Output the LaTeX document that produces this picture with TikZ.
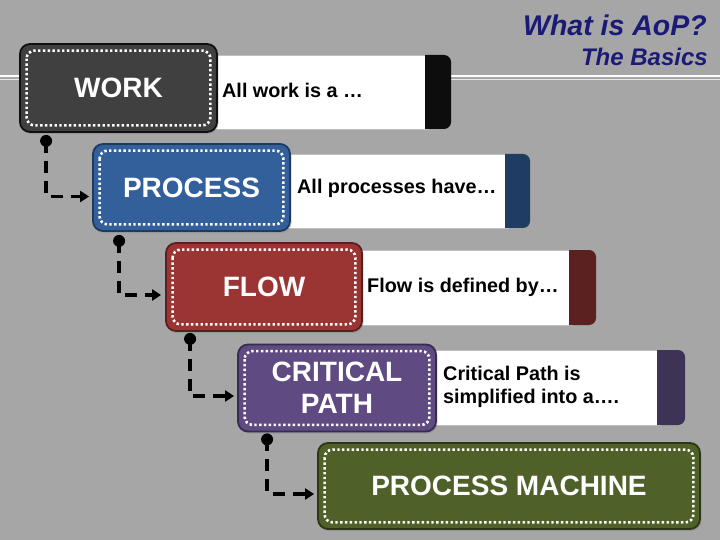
\documentclass[tikz,border=0pt]{standalone}
\usepackage{fontspec}
\setmainfont{Liberation Sans}
\usetikzlibrary{arrows.meta,shadows}
\definecolor{bg}{HTML}{A6A6A6}
\definecolor{navy}{HTML}{1B1B77}
\definecolor{workfill}{HTML}{404040}
\definecolor{workdraw}{HTML}{101010}
\definecolor{workcap}{HTML}{0D0D0D}
\definecolor{procfill}{HTML}{33609A}
\definecolor{procdraw}{HTML}{1E3A5E}
\definecolor{proccap}{HTML}{1F3D62}
\definecolor{flowfill}{HTML}{9A3534}
\definecolor{flowdraw}{HTML}{5A1F1F}
\definecolor{flowcap}{HTML}{5B2121}
\definecolor{critfill}{HTML}{5F4A82}
\definecolor{critdraw}{HTML}{382B50}
\definecolor{critcap}{HTML}{3E3256}
\definecolor{machfill}{HTML}{4F6128}
\definecolor{machdraw}{HTML}{2A3615}
\tikzset{
  box/.style={rounded corners=10pt, line width=1.8pt, text=white,
    font=\fontsize{28}{32}\selectfont\bfseries, align=center, inner sep=0pt,
    drop shadow={opacity=0.35, shadow xshift=1.5pt, shadow yshift=-2pt}},
  innerdots/.style={white, line width=2.6pt, dash pattern=on 2.4pt off 2.4pt, rounded corners=8pt},
  strip/.style={fill=white, draw=black!25, line width=0.6pt},
  striptext/.style={anchor=west, font=\fontsize{19.8}{23}\selectfont\bfseries, align=left, inner sep=0pt, text=black},
  conn/.style={line width=3.8pt, dash pattern=on 12pt off 8pt, -{Triangle[length=9pt,width=11pt]}},
  dot/.style={fill=black}
}
\begin{document}
\begin{tikzpicture}[x=1pt,y=-1pt]
\useasboundingbox (0,0) rectangle (720,540);
\fill[bg] (0,0) rectangle (720,540);
% title
\node[anchor=base east, font=\fontsize{28.5}{32}\selectfont\bfseries\itshape, text=navy, inner sep=0pt] (t1) at (707,36) {What is AoP?};
\node[anchor=base east, font=\fontsize{24}{27}\selectfont\bfseries\itshape, text=navy, inner sep=0pt] (t2) at (708,66) {The Basics};
% horizontal rule
\draw[white, line width=1.8pt] (0,76) -- (720,76);
\draw[white!75!bg, line width=1.2pt] (0,79.5) -- (720,79.5);
% strips
\fill[strip] (200,55) rectangle (428,129);
\fill[workcap] (425,129) -- (425,55) [rounded corners=7pt] -- (451,55) -- (451,129) [sharp corners] -- cycle;
\fill[strip] (280,154) rectangle (508,228);
\fill[proccap] (505,228) -- (505,154) [rounded corners=7pt] -- (530,154) -- (530,228) [sharp corners] -- cycle;
\fill[strip] (350,250) rectangle (572,325);
\fill[flowcap] (569,325) -- (569,250) [rounded corners=7pt] -- (596,250) -- (596,325) [sharp corners] -- cycle;
\fill[strip] (425,350) rectangle (660,425);
\fill[critcap] (657,425) -- (657,350) [rounded corners=7pt] -- (685,350) -- (685,425) [sharp corners] -- cycle;
% strip texts
\node[striptext] (d1) at (222,90) {All work is a …};
\node[striptext] (d2) at (297,188) {All processes have…};
\node[striptext] (d3) at (367,287) {Flow is defined by…};
\node[striptext] (d4) at (443,387) {Critical Path is\\simplified into a….};
% boxes
\node[box, fill=workfill, draw=workdraw, minimum width=197pt, minimum height=88pt] (work) at (118.5,88) {WORK};
\node[box, fill=procfill, draw=procdraw, minimum width=197pt, minimum height=87pt] (process) at (191.5,187.5) {PROCESS};
\node[box, fill=flowfill, draw=flowdraw, minimum width=196pt, minimum height=88pt] (flow) at (264,287) {FLOW};
\node[box, fill=critfill, draw=critdraw, minimum width=198pt, minimum height=87pt] (crit) at (337,388) {CRITICAL\\PATH};
\node[box, fill=machfill, draw=machdraw, minimum width=382pt, minimum height=86pt] (mach) at (509,486) {PROCESS MACHINE};
\foreach \n in {work,process,flow,crit,mach}{
  \draw[innerdots] ([shift={(7.5pt,-7.5pt)}]\n.north west) rectangle ([shift={(-7.5pt,7.5pt)}]\n.south east);
}
% connectors
\coordinate (s1) at ([shift={(27pt,-8pt)}]work.south west);
\coordinate (e1) at ([shift={(-3pt,-9pt)}]process.west);
\coordinate (s2) at ([shift={(27pt,-9pt)}]process.south west);
\coordinate (e2) at ([shift={(-4pt,-8pt)}]flow.west);
\coordinate (s3) at ([shift={(25pt,-7pt)}]flow.south west);
\coordinate (e3) at ([shift={(-3pt,-8pt)}]crit.west);
\coordinate (s4) at ([shift={(30pt,-7pt)}]crit.south west);
\coordinate (e4) at ([shift={(-3pt,-8pt)}]mach.west);
\foreach \s/\e in {s1/e1,s2/e2,s3/e3,s4/e4}{
  \fill[dot] (\s) circle (6pt);
  \draw[conn] (\s) |- (\e);
}
\end{tikzpicture}
\end{document}
